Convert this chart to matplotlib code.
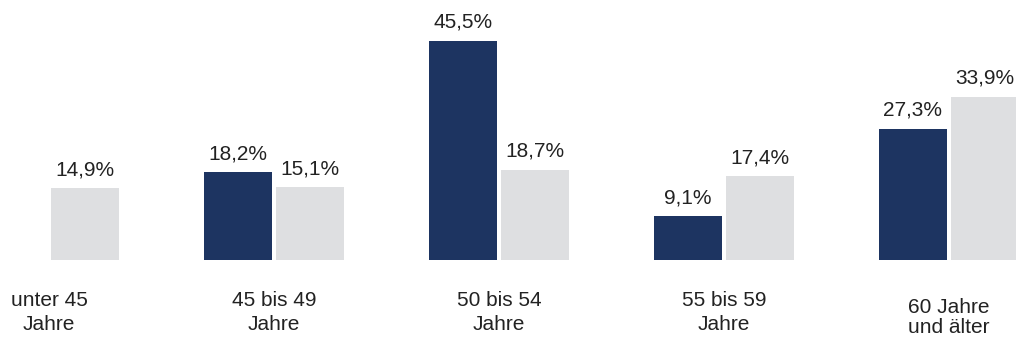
import numpy as np
import matplotlib.pyplot as plt

plt.rcParams['font.family'] = ['Liberation Sans', 'DejaVu Sans']

categories = ['unter 45\nJahre', '45 bis 49\nJahre', '50 bis 54\nJahre', '55 bis 59\nJahre', '60 Jahre\nund älter']
dark_values = [np.nan, 18.2, 45.5, 9.1, 27.3]
light_values = [14.9, 15.1, 18.7, 17.4, 33.9]

dark_color = '#1d3461'
light_color = '#dedfe1'

fig = plt.figure(figsize=(10.16, 3.49), dpi=100)
ax = fig.add_axes([0, 0.255, 1, 0.745])

x = np.arange(len(categories))
w = 0.305
off = 0.16

b1 = ax.bar(x - off, dark_values, width=w, color=dark_color)
b2 = ax.bar(x + off, light_values, width=w, color=light_color)

def fmt(v):
    return ('%.1f%%' % v).replace('.', ',')

for bars, vals in [(b1, dark_values), (b2, light_values)]:
    for bar, v in zip(bars, vals):
        if np.isnan(v):
            continue
        ax.annotate(fmt(v), (bar.get_x() + bar.get_width() / 2, v),
                    xytext=(0, 6.5), textcoords='offset points',
                    ha='center', va='bottom', fontsize=15, color='#222222')

# Kategorien unter den Balken
label_drop = [-22, -22, -22, -22, -27]
label_ls = [1.35, 1.35, 1.35, 1.35, 1.1]
for xi, cat, d, ls in zip(x, categories, label_drop, label_ls):
    ax.annotate(cat, (xi, 0), xycoords=('data', 'axes fraction'),
                xytext=(0, d), textcoords='offset points',
                ha='center', va='top', fontsize=15, color='#222222',
                linespacing=ls, annotation_clip=False)

ax.set_xlim(-0.218, 4.298)
ax.set_ylim(0, 54)
ax.axis('off')

fig.savefig('out.png', dpi=100)
